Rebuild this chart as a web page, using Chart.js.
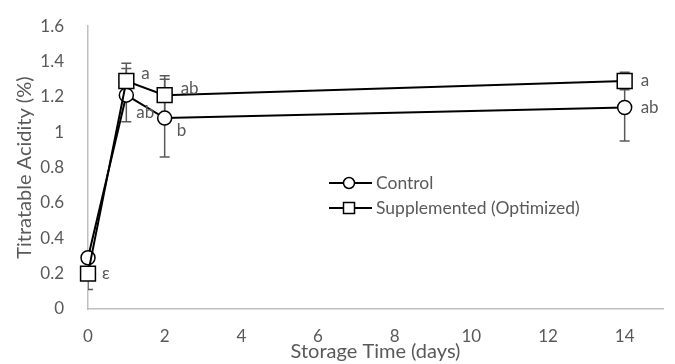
<!DOCTYPE html>
<html>
<head>
<meta charset="utf-8">
<title>Titratable Acidity</title>
<script src="https://cdn.jsdelivr.net/npm/chart.js@4.4.1/dist/chart.umd.min.js"></script>
<style>
  html, body { margin: 0; padding: 0; background: #fff; }
  #wrap { width: 675px; height: 364px; }
</style>
</head>
<body>
<div id="wrap"><canvas id="acidityChart" width="675" height="364"></canvas></div>
<script>
// storage days and titratable acidity (%)
const days = [0, 1, 2, 14];
const controlMean = [0.29, 1.21, 1.08, 1.14];
const controlErr = [0.02, 0.15, 0.22, 0.19];
const controlLetters = ['', 'ab', 'b', 'ab'];
const suppMean = [0.20, 1.29, 1.21, 1.29];
const suppErr = [0.09, 0.10, 0.11, 0.05];
const suppLetters = ['\u03b5', 'a', 'ab', 'a'];
const xTicks = [0, 2, 4, 6, 8, 10, 12, 14];
const yTicks = [0, 0.2, 0.4, 0.6, 0.8, 1, 1.2, 1.4, 1.6];

const GREY = '#595959';
const AXIS = '#bfbfbf';
const FONT = 'Lato, "Open Sans", sans-serif';

const toPoints = (xs, ys) => xs.map((x, i) => ({ x: x, y: ys[i] }));

// error bars, drawn behind the markers (clipped like Excel does)
const errorBars = {
    id: 'errorBars',
    beforeDatasetsDraw(chart) {
        const { ctx, chartArea, scales } = chart;
        ctx.save();
        ctx.beginPath();
        ctx.rect(chartArea.left, chartArea.top, chartArea.right - chartArea.left, chartArea.bottom - chartArea.top);
        ctx.clip();
        ctx.strokeStyle = GREY;
        ctx.lineWidth = 1.5;
        chart.data.datasets.forEach(ds => {
            ds.data.forEach((p, i) => {
                const x = scales.x.getPixelForValue(p.x);
                const yTop = scales.y.getPixelForValue(p.y + ds.errors[i]);
                const yBot = scales.y.getPixelForValue(p.y - ds.errors[i]);
                ctx.beginPath();
                ctx.moveTo(x, yTop); ctx.lineTo(x, yBot);
                ctx.moveTo(x - 5, yTop); ctx.lineTo(x + 5, yTop);
                ctx.moveTo(x - 5, yBot); ctx.lineTo(x + 5, yBot);
                ctx.stroke();
            });
        });
        ctx.restore();
    }
};

// significance letters next to the markers
const letterLabels = {
    id: 'letterLabels',
    afterDatasetsDraw(chart) {
        const { ctx } = chart;
        ctx.save();
        ctx.font = '17px ' + FONT;
        ctx.fillStyle = GREY;
        ctx.textAlign = 'left';
        ctx.textBaseline = 'middle';
        chart.data.datasets.forEach((ds, di) => {
            const meta = chart.getDatasetMeta(di);
            meta.data.forEach((el, i) => {
                const txt = ds.letters[i];
                if (!txt) return;
                const off = ds.letterOffsets[i];
                ctx.fillText(txt, el.x + off[0], el.y + off[1]);
            });
        });
        ctx.restore();
    }
};

// legend sitting inside the plot, Excel style
const innerLegend = {
    id: 'innerLegend',
    afterDraw(chart) {
        const { ctx } = chart;
        const x0 = 329, x1 = 372, mx = 349;
        ctx.save();
        chart.data.datasets.forEach((ds, i) => {
            const y = 183 + i * 25;
            ctx.strokeStyle = '#000';
            ctx.lineWidth = 2;
            ctx.beginPath();
            ctx.moveTo(x0, y); ctx.lineTo(x1, y);
            ctx.stroke();
            ctx.fillStyle = '#fff';
            ctx.lineWidth = 1.5;
            ctx.beginPath();
            if (ds.pointStyle === 'rect') {
                ctx.rect(mx - 5.5, y - 5.5, 11, 11);
            } else {
                ctx.arc(mx, y, 5.5, 0, Math.PI * 2);
            }
            ctx.fill();
            ctx.stroke();
            ctx.fillStyle = GREY;
            ctx.font = '17.5px ' + FONT;
            ctx.textBaseline = 'middle';
            ctx.fillText(ds.label, 376, y);
        });
        ctx.restore();
    }
};

new Chart(document.getElementById('acidityChart'), {
    type: 'scatter',
    data: {
        datasets: [
            {
                label: 'Control',
                data: toPoints(days, controlMean),
                errors: controlErr,
                letters: controlLetters,
                letterOffsets: [[12, 0], [10, 17], [12, 12], [16, 0]],
                showLine: true,
                clip: false,
                borderColor: '#000',
                borderWidth: 2,
                pointStyle: 'circle',
                pointRadius: 7,
                pointBorderWidth: 1.5,
                pointBackgroundColor: '#fff',
                pointBorderColor: '#000',
                order: 1
            },
            {
                label: 'Supplemented (Optimized)',
                data: toPoints(days, suppMean),
                errors: suppErr,
                letters: suppLetters,
                letterOffsets: [[14, 0], [15, -7], [16, -7], [16, 0]],
                showLine: true,
                clip: false,
                borderColor: '#000',
                borderWidth: 2,
                pointStyle: 'rect',
                pointRadius: 10.5,
                pointBorderWidth: 1.5,
                pointBackgroundColor: '#fff',
                pointBorderColor: '#000',
                order: 0
            }
        ]
    },
    options: {
        responsive: false,
        animation: false,
        events: [],
        layout: { padding: { left: 0, top: 18, right: 10, bottom: 0 } },
        plugins: {
            legend: { display: false },
            tooltip: { enabled: false }
        },
        scales: {
            x: {
                type: 'linear',
                min: 0,
                max: 15,
                afterBuildTicks: axis => { axis.ticks = xTicks.map(v => ({ value: v })); },
                afterFit: axis => { axis.height = 55; },
                grid: { display: false },
                border: { color: AXIS, width: 1.5 },
                ticks: { color: GREY, font: { family: FONT, size: 17 }, padding: 9, maxRotation: 0 },
                title: {
                    display: true,
                    text: 'Storage Time (days)',
                    color: GREY,
                    font: { family: FONT, size: 20 },
                    padding: { top: 0, bottom: 0 }
                }
            },
            y: {
                min: 0,
                max: 1.6,
                afterBuildTicks: axis => { axis.ticks = yTicks.map(v => ({ value: v })); },
                afterFit: axis => { axis.width = 88; },
                grid: { display: false },
                border: { color: AXIS, width: 1.5 },
                ticks: {
                    color: GREY,
                    font: { family: FONT, size: 17 },
                    padding: 16,
                    callback: v => String(Number(v.toFixed(1)))
                },
                title: {
                    display: true,
                    text: 'Titratable Acidity (%)',
                    color: GREY,
                    font: { family: FONT, size: 20 },
                    padding: { top: 13, bottom: 0 }
                }
            }
        }
    },
    plugins: [errorBars, letterLabels, innerLegend]
});
</script>
</body>
</html>
